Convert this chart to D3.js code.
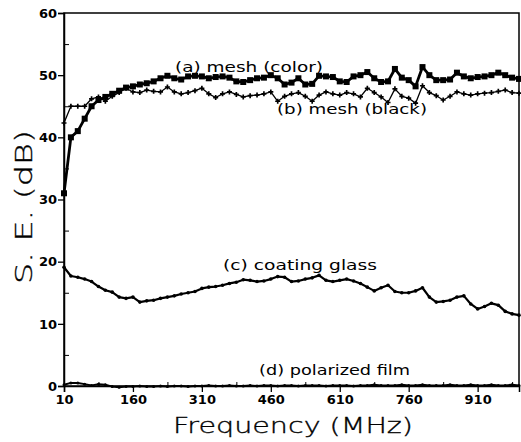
<!DOCTYPE html>
<html>
<head>
<meta charset="utf-8">
<script src="https://cdnjs.cloudflare.com/ajax/libs/d3/7.8.5/d3.min.js"></script>
<style>
  body { margin: 0; background: #fff; }
  .tick text { font-family: "DejaVu Sans", sans-serif; font-weight: bold; font-size: 13px; fill: #000; }
  .note { font-family: "DejaVu Sans", sans-serif; font-size: 14px; fill: #000; }
  .title { font-family: "DejaVu Sans", sans-serif; font-weight: 200; fill: #000; stroke: #000; stroke-width: 0.35px; }
</style>
</head>
<body>
<div id="chart"></div>
<script>
// frequency grid (MHz), every 15 MHz
var freqs = d3.range(10, 1001, 15);

// (a) mesh (color)
var meshColor = [31, 40, 41, 43, 45, 46, 46.5, 47, 47.5, 48, 48.2, 48.5, 48.7, 49, 49.5, 49.9, 49.5, 49.3, 49.8, 49.9,
  49.8, 49.5, 49.7, 49.8, 49.6, 49, 48.9, 49.2, 49.5, 49.6, 50.0, 49.5, 48.5, 48.8, 49.5, 48.5, 48.6, 49.9, 49.8, 49.7,
  49.0, 48.9, 49.8, 50.0, 50.5, 49.5, 48.9, 49.0, 51.0, 49.6, 49.2, 48.2, 51.3, 50.0, 49.2, 49.2, 49.3, 50.4, 49.8, 49.5,
  49.7, 49.8, 50.0, 50.4, 50.0, 49.6, 49.4];

// (b) mesh (black)
var meshBlack = [42.3, 45, 45, 45, 46.2, 46.5, 45.8, 46.6, 47.2, 47.9, 47.3, 47.2, 47.6, 47.4, 47.3, 48.1, 47.3, 47.0, 47.2, 47.5,
  47.9, 47.0, 46.4, 47.0, 47.3, 46.9, 46.5, 46.7, 46.8, 47.0, 47.3, 45.8, 46.6, 47.0, 47.2, 46.6, 45.8, 46.8, 47.3, 47.0,
  46.8, 47.2, 47.0, 46.5, 47.9, 47.2, 46.5, 45.6, 47.8, 46.6, 46.3, 45.5, 48.3, 47.2, 46.7, 46.0, 46.6, 47.3, 47.0, 46.8,
  47.0, 47.1, 47.2, 47.4, 47.6, 47.2, 47.1];

// (c) coating glass
var coatingGlass = [19.1, 17.7, 17.5, 17.2, 16.8, 16.0, 15.4, 15.1, 14.3, 14.1, 14.3, 13.5, 13.7, 13.8, 14.1, 14.3, 14.5, 14.8, 15.0, 15.2,
  15.7, 15.9, 16.0, 16.2, 16.5, 16.7, 17.1, 17.0, 16.8, 16.9, 17.2, 17.6, 17.5, 16.8, 16.9, 17.2, 17.4, 17.8, 17.0, 16.8,
  17.0, 17.2, 16.9, 16.5, 15.9, 15.3, 15.8, 16.2, 15.2, 15.0, 15.0, 15.3, 15.8, 14.3, 13.5, 13.6, 13.8, 14.3, 14.5, 13.2,
  12.4, 12.8, 13.3, 13.0, 12.0, 11.6, 11.4];

// (d) polarized film
var polarizedFilm = [0.2, 0.5, 0.5, 0.3, 0.1, 0.3, 0.2, -0.1, -0.2, -0.1, -0.1, 0, -0.1, -0.1, 0, -0.1, 0, 0, -0.1, 0,
  0, 0.1, 0, 0, 0.1, 0, 0, 0.1, 0, 0.1, 0.1, 0, 0.1, 0.1, 0, 0.1, 0.1, 0.1, 0, 0.1,
  0.1, 0.1, 0, 0.1, 0.1, 0.2, 0.1, 0.1, 0.1, 0.2, 0.1, 0.1, 0.2, 0.1, 0.1, 0.1, 0.2, 0.1, 0.1, 0.2,
  0.1, 0.1, 0.2, 0.1, 0.1, 0.2, 0.1];

var xTicks = [10, 160, 310, 460, 610, 760, 910];
var xMinor = [85, 235, 385, 535, 685, 835, 985];
var yTicks = [0, 10, 20, 30, 40, 50, 60];
var yMinor = [5, 15, 25, 35, 45, 55];

var width = 521, height = 442;
var margin = {top: 13, right: 2, bottom: 56, left: 64};

var svg = d3.select("#chart").append("svg")
    .attr("width", width)
    .attr("height", height);

var x = d3.scaleLinear().domain([10, 1000]).range([margin.left, width - margin.right]);
var y = d3.scaleLinear().domain([0, 60]).range([height - margin.bottom, margin.top]);

// frame
svg.append("rect")
    .attr("x", x(10)).attr("y", y(60))
    .attr("width", x(1000) - x(10)).attr("height", y(0) - y(60))
    .attr("fill", "none").attr("stroke", "#000").attr("stroke-width", 1.5);

// axes
svg.append("g")
    .attr("transform", "translate(0," + y(0) + ")")
    .call(d3.axisBottom(x).tickValues(xTicks).tickSize(6).tickPadding(3).tickFormat(d3.format("d")))
    .call(function(g) { g.select(".domain").attr("stroke-width", 1.5); })
    .call(function(g) { g.selectAll(".tick line").attr("stroke-width", 1.3); });

svg.append("g")
    .attr("transform", "translate(0," + y(0) + ")")
    .call(d3.axisTop(x).tickValues(xMinor).tickSize(4).tickFormat(""))
    .call(function(g) { g.select(".domain").remove(); });

svg.append("g")
    .attr("transform", "translate(" + x(10) + ",0)")
    .call(d3.axisLeft(y).tickValues(yTicks).tickSize(6).tickPadding(1).tickFormat(d3.format("d")))
    .call(function(g) { g.select(".domain").attr("stroke-width", 1.5); })
    .call(function(g) { g.selectAll(".tick line").attr("stroke-width", 1.3); });

svg.append("g")
    .attr("transform", "translate(" + x(10) + ",0)")
    .call(d3.axisRight(y).tickValues(yMinor).tickSize(5).tickFormat(""))
    .call(function(g) { g.select(".domain").remove(); });

// series
function pts(vals) {
    return vals.map(function(v, i) { return [freqs[i], v]; });
}
var line = d3.line()
    .x(function(d) { return x(d[0]); })
    .y(function(d) { return y(d[1]); });

function drawLine(vals, w) {
    svg.append("path")
        .datum(pts(vals))
        .attr("d", line)
        .attr("fill", "none")
        .attr("stroke", "#000")
        .attr("stroke-width", w)
        .attr("stroke-linejoin", "round");
}

// (a) squares
drawLine(meshColor, 2.8);
svg.append("g").selectAll("rect")
    .data(pts(meshColor))
    .enter().append("rect")
        .attr("x", function(d) { return x(d[0]) - 3; })
        .attr("y", function(d) { return y(d[1]) - 3; })
        .attr("width", 6)
        .attr("height", 6)
        .attr("fill", "#000");

// (b) plus marks
drawLine(meshBlack, 1.3);
svg.append("g").selectAll("path")
    .data(pts(meshBlack))
    .enter().append("path")
        .attr("d", d3.symbol().type(d3.symbolCross).size(14))
        .attr("transform", function(d) { return "translate(" + x(d[0]) + "," + y(d[1]) + ")"; })
        .attr("fill", "#000");

// (c) dots
drawLine(coatingGlass, 2.2);
svg.append("g").selectAll("circle")
    .data(pts(coatingGlass))
    .enter().append("circle")
        .attr("cx", function(d) { return x(d[0]); })
        .attr("cy", function(d) { return y(d[1]); })
        .attr("r", 1.8)
        .attr("fill", "#000");

// (d) dots
drawLine(polarizedFilm, 2);
svg.append("g").selectAll("circle")
    .data(pts(polarizedFilm))
    .enter().append("circle")
        .attr("cx", function(d) { return x(d[0]); })
        .attr("cy", function(d) { return y(d[1]); })
        .attr("r", 1.5)
        .attr("fill", "#000");

// labels on curves
var notes = [
    {t: "(a)  mesh  (color)", x: 175, y: 72, w: 148},
    {t: "(b)  mesh  (black)", x: 277, y: 114, w: 150},
    {t: "(c)  coating  glass", x: 223, y: 270, w: 154},
    {t: "(d)  polarized  film", x: 259, y: 375, w: 151}
];
svg.selectAll(".note")
    .data(notes)
    .enter().append("text")
        .attr("class", "note")
        .attr("x", function(d) { return d.x; })
        .attr("y", function(d) { return d.y; })
        .attr("textLength", function(d) { return d.w; })
        .attr("lengthAdjust", "spacingAndGlyphs")
        .text(function(d) { return d.t; });

// axis titles
svg.append("text")
    .attr("class", "title")
    .attr("x", 293)
    .attr("y", 433)
    .attr("text-anchor", "middle")
    .attr("textLength", 240)
    .attr("lengthAdjust", "spacingAndGlyphs")
    .style("font-size", "22px")
    .text("Frequency  (MHz)");

svg.append("text")
    .attr("class", "title")
    .attr("transform", "translate(32,207) rotate(-90)")
    .attr("text-anchor", "middle")
    .attr("textLength", 154)
    .attr("lengthAdjust", "spacingAndGlyphs")
    .style("font-size", "23px")
    .text("S.  E.  (dB)");
</script>
</body>
</html>
